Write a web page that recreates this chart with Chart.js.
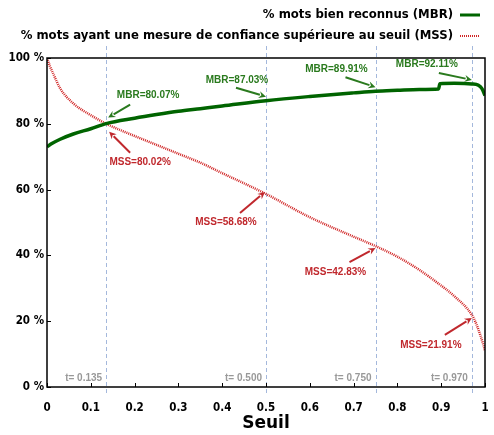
<!DOCTYPE html>
<html>
<head>
<meta charset="utf-8">
<script src="https://cdn.jsdelivr.net/npm/chart.js@4.4.1/dist/chart.umd.min.js"></script>
<style>
  body { margin: 0; background: #fff; }
  #wrap { width: 494px; height: 435px; position: relative; }
</style>
</head>
<body>
<div id="wrap"><canvas id="seuilChart"></canvas></div>
<script>
// courbe MBR
const seuilMBR = [0, 0.01, 0.03, 0.06, 0.1, 0.135, 0.2, 0.25, 0.3, 0.35, 0.4, 0.5, 0.6, 0.7, 0.75, 0.8, 0.85, 0.894, 0.897, 0.93, 0.97, 0.985, 0.993, 1.0];
const valMBR = [73.0, 73.9, 75.3, 76.9, 78.5, 80.07, 81.7, 82.8, 83.8, 84.6, 85.4, 87.03, 88.3, 89.4, 89.91, 90.2, 90.45, 90.6, 92.2, 92.3, 92.11, 91.7, 90.7, 88.6];

// courbe MSS
const seuilMSS = [0, 0.007, 0.015, 0.03, 0.06, 0.1, 0.135, 0.2, 0.25, 0.3, 0.35, 0.4, 0.45, 0.5, 0.6, 0.7, 0.75, 0.8, 0.85, 0.89, 0.93, 0.97, 0.98, 0.99, 0.997, 1.0];
const valMSS = [100, 97.4, 95.0, 90.8, 86.2, 82.6, 80.02, 76.3, 73.6, 70.9, 68.2, 65.0, 61.9, 58.68, 51.6, 45.7, 42.83, 39.6, 35.6, 31.8, 27.6, 21.91, 19.2, 15.5, 12.5, 11.0];

// seuils annotés
const seuils = [0.135, 0.5, 0.75, 0.97];
const mbrAuSeuil = [80.07, 87.03, 89.91, 92.11];
const mssAuSeuil = [80.02, 58.68, 42.83, 21.91];

const GREEN_LINE = '#006400';
const GREEN_TXT = '#2a7a1e';
const RED_LINE = '#d02424';
const RED_TXT = '#c0282d';

// label offset / arrow start / arrow end, relative to the point (pixels)
const mbrOffsets = [
  { lx: 42, ly: -28, ax: 24, ay: -19, ex: 2, ey: -6 },
  { lx: -29, ly: -20, ax: -30, ay: -13, ex: 0, ey: -4 },
  { lx: -39, ly: -22, ax: -30, ay: -14, ex: 0, ey: -4 },
  { lx: -45, ly: -20, ax: -33, ay: -11, ex: 0, ey: -4 }
];
const mssOffsets = [
  { lx: 34, ly: 39, ax: 24, ay: 29, ex: 3, ey: 8 },
  { lx: -40, ly: 28, ax: -26, ay: 19, ex: -1, ey: -2 },
  { lx: -40, ly: 26, ax: -26, ay: 16, ex: 0, ey: 2 },
  { lx: -41, ly: 30, ax: -27, ay: 20, ex: 0, ey: 3 }
];

function toPoints(xs, ys) {
  return xs.map((x, i) => ({ x: x, y: ys[i] }));
}

function drawArrow(ctx, x1, y1, x2, y2, color) {
  const ang = Math.atan2(y2 - y1, x2 - x1);
  const head = 8;
  ctx.strokeStyle = color;
  ctx.fillStyle = color;
  ctx.lineWidth = 2;
  ctx.beginPath();
  ctx.moveTo(x1, y1);
  ctx.lineTo(x2 - Math.cos(ang) * head * 0.8, y2 - Math.sin(ang) * head * 0.8);
  ctx.stroke();
  ctx.beginPath();
  ctx.moveTo(x2, y2);
  ctx.lineTo(x2 - head * Math.cos(ang - 0.45), y2 - head * Math.sin(ang - 0.45));
  ctx.lineTo(x2 - head * 0.6 * Math.cos(ang), y2 - head * 0.6 * Math.sin(ang));
  ctx.lineTo(x2 - head * Math.cos(ang + 0.45), y2 - head * Math.sin(ang + 0.45));
  ctx.closePath();
  ctx.fill();
}

const decorPlugin = {
  id: 'decor',
  beforeDatasetsDraw(chart) {
    const ctx = chart.ctx;
    const area = chart.chartArea;
    const xs = chart.scales.x;
    ctx.save();
    // lignes verticales des seuils
    ctx.strokeStyle = '#a4b8dc';
    ctx.lineWidth = 1;
    ctx.setLineDash([4, 3]);
    seuils.forEach(t => {
      const px = Math.round(xs.getPixelForValue(t)) + 0.5;
      ctx.beginPath();
      ctx.moveTo(px, area.top - 12);
      ctx.lineTo(px, area.bottom + 8);
      ctx.stroke();
    });
    ctx.setLineDash([]);
    // étiquettes t=
    ctx.fillStyle = '#999999';
    ctx.font = 'bold 10px "Liberation Sans", Arial, sans-serif';
    ctx.textAlign = 'right';
    ctx.textBaseline = 'middle';
    seuils.forEach(t => {
      ctx.fillText('t= ' + t.toFixed(3), xs.getPixelForValue(t) - 4, area.bottom - 9);
    });
    ctx.restore();
  },
  afterDatasetsDraw(chart) {
    const ctx = chart.ctx;
    const area = chart.chartArea;
    const xs = chart.scales.x;
    const ys = chart.scales.y;
    ctx.save();
    // cadre
    ctx.strokeStyle = '#000';
    ctx.lineWidth = 1.5;
    ctx.strokeRect(area.left, area.top, area.right - area.left, area.bottom - area.top);
    // graduations internes
    ctx.lineWidth = 1;
    xs.ticks.forEach(tk => {
      const px = Math.round(xs.getPixelForValue(tk.value)) + 0.5;
      ctx.beginPath();
      ctx.moveTo(px, area.bottom);
      ctx.lineTo(px, area.bottom - 4);
      ctx.stroke();
    });
    ys.ticks.forEach(tk => {
      const py = Math.round(ys.getPixelForValue(tk.value)) + 0.5;
      ctx.beginPath();
      ctx.moveTo(area.left, py);
      ctx.lineTo(area.left + 4, py);
      ctx.stroke();
    });

    // annotations
    ctx.font = 'bold 10px "Liberation Sans", Arial, sans-serif';
    ctx.textAlign = 'center';
    ctx.textBaseline = 'middle';
    seuils.forEach((t, i) => {
      const px = xs.getPixelForValue(t);
      let py = ys.getPixelForValue(mbrAuSeuil[i]);
      let o = mbrOffsets[i];
      drawArrow(ctx, px + o.ax, py + o.ay, px + o.ex, py + o.ey, GREEN_TXT);
      ctx.fillStyle = GREEN_TXT;
      ctx.fillText('MBR=' + mbrAuSeuil[i].toFixed(2) + '%', px + o.lx, py + o.ly);

      py = ys.getPixelForValue(mssAuSeuil[i]);
      o = mssOffsets[i];
      drawArrow(ctx, px + o.ax, py + o.ay, px + o.ex, py + o.ey, RED_TXT);
      ctx.fillStyle = RED_TXT;
      ctx.fillText('MSS=' + mssAuSeuil[i].toFixed(2) + '%', px + o.lx, py + o.ly);
    });

    // légende
    ctx.font = 'bold 11.7px "DejaVu Sans", sans-serif';
    ctx.textAlign = 'right';
    ctx.fillStyle = '#000';
    chart.data.datasets.forEach((ds, i) => {
      const y = 15 + i * 21;
      ctx.fillText(ds.label, 453, y);
      ctx.strokeStyle = ds.borderColor;
      ctx.lineWidth = i === 0 ? 3 : 2;
      ctx.setLineDash(ds.borderDash || []);
      ctx.beginPath();
      ctx.moveTo(460, y);
      ctx.lineTo(480, y);
      ctx.stroke();
      ctx.setLineDash([]);
    });
    ctx.restore();
  }
};

const tickFont = { family: '"DejaVu Sans Condensed", "DejaVu Sans", sans-serif', size: 11.5, weight: 'bold' };

new Chart(document.getElementById('seuilChart'), {
  type: 'line',
  data: {
    datasets: [
      {
        label: '% mots bien reconnus (MBR)',
        data: toPoints(seuilMBR, valMBR),
        borderColor: GREEN_LINE,
        borderWidth: 3.5,
        pointRadius: 0,
        cubicInterpolationMode: 'monotone',
        fill: false
      },
      {
        label: '% mots ayant une mesure de confiance supérieure au seuil (MSS)',
        data: toPoints(seuilMSS, valMSS),
        borderColor: RED_LINE,
        borderWidth: 2.5,
        borderDash: [1, 1],
        pointRadius: 0,
        cubicInterpolationMode: 'monotone',
        fill: false
      }
    ]
  },
  options: {
    responsive: true,
    maintainAspectRatio: false,
    animation: false,
    layout: { padding: { top: 58, right: 9, left: 0, bottom: 0 } },
    plugins: {
      legend: { display: false },
      tooltip: { enabled: false }
    },
    scales: {
      x: {
        type: 'linear',
        min: 0,
        max: 1,
        afterFit: s => { s.height = 48; s.paddingLeft = 0; s.paddingRight = 0; },
        ticks: {
          stepSize: 0.1,
          color: '#000',
          font: tickFont,
          padding: 14,
          maxRotation: 0,
          callback: v => String(+v.toFixed(1))
        },
        grid: { display: false, drawTicks: false },
        border: { display: false },
        title: {
          display: true,
          text: 'Seuil',
          color: '#000',
          font: { family: '"DejaVu Sans", sans-serif', size: 17, weight: 'bold' },
          padding: { top: 0, bottom: 1 }
        }
      },
      y: {
        min: 0,
        max: 100,
        afterFit: s => { s.width = 47; s.paddingTop = 0; s.paddingBottom = 0; },
        ticks: {
          stepSize: 20,
          color: '#000',
          font: tickFont,
          padding: 3,
          callback: v => v + ' %'
        },
        grid: { display: false, drawTicks: false },
        border: { display: false }
      }
    }
  },
  plugins: [decorPlugin]
});
</script>
</body>
</html>
